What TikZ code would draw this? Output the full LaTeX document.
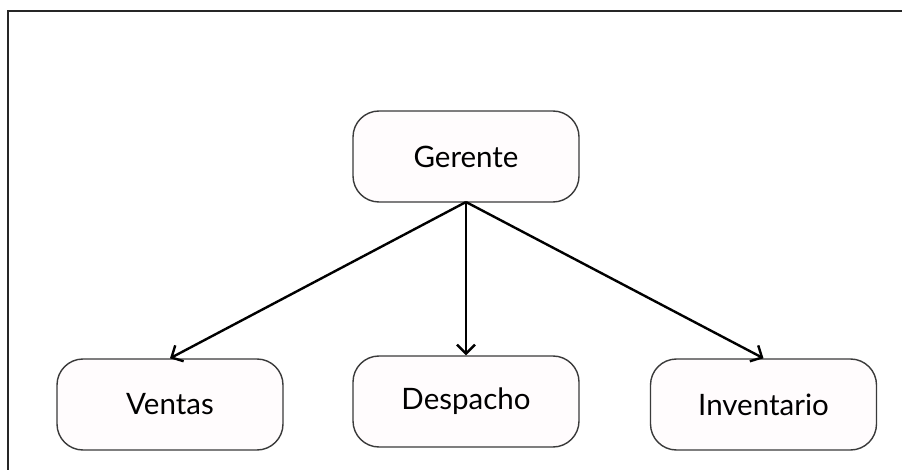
\documentclass[tikz,border=0pt]{standalone}
\usepackage{fontspec}
\setmainfont{Lato}
\usetikzlibrary{arrows.meta}
\definecolor{boxfill}{HTML}{FFFCFD}
\definecolor{boxline}{HTML}{3A3A3A}
\tikzset{
  box/.style={draw=boxline, line width=1.4pt, fill=boxfill, rounded corners=26pt,
    minimum width=226pt, minimum height=91pt, inner sep=0pt, font=\fontsize{29.5}{32}\selectfont},
  conn/.style={line width=2.4pt, -{Straight Barb[length=9pt, width=18pt, line width=2.4pt]}}
}
\begin{document}
\begin{tikzpicture}[x=1pt, y=-1pt]
\useasboundingbox (0,0) rectangle (902,470);
\draw[line width=2.2pt, black!85] (8,480) -- (8,11) -- (910,11);
\node[box] (g) at (466,156.5) {Gerente};
\node[box] (v) at (170,404.5) {Ventas};
\node[box] (d) at (466,401.5) {Despacho};
\node[box] (i) at (763.5,404.5) {Inventario};
\coordinate (gb) at (466,202);
\draw[conn] (gb) -- (v.north);
\draw[conn] (gb) -- (d.north);
\draw[conn] (gb) -- (i.north);
\end{tikzpicture}
\end{document}
